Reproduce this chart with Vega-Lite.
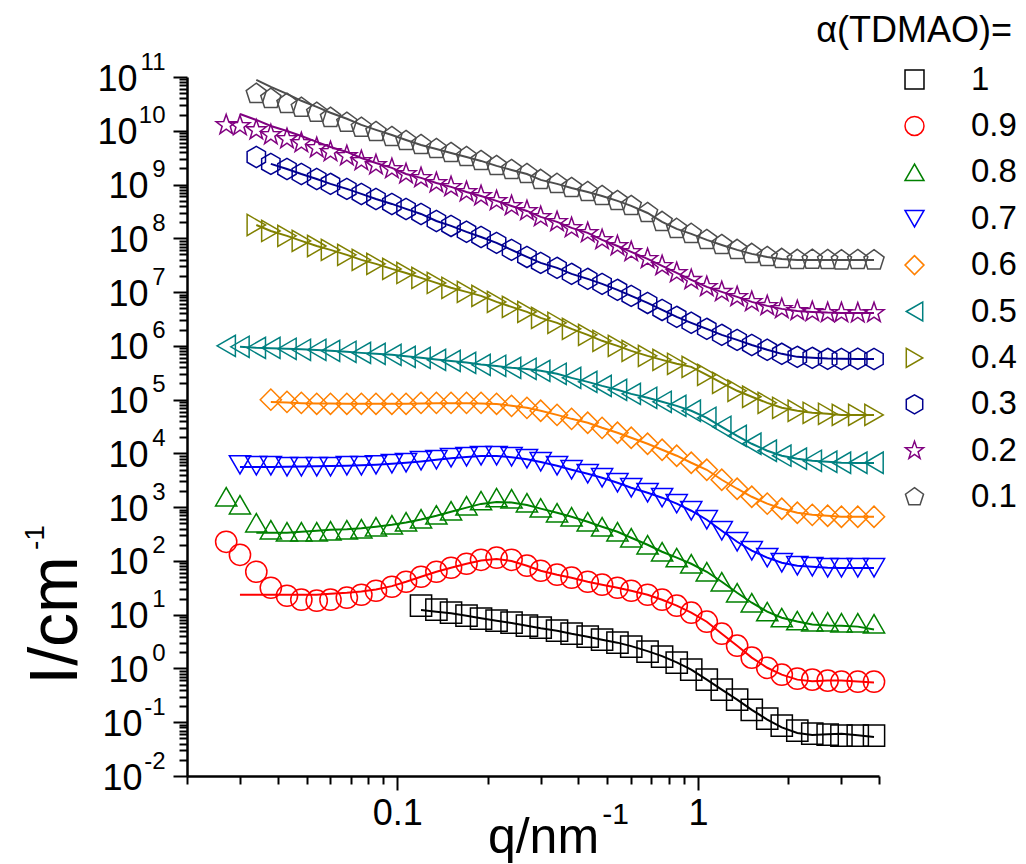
{
"$schema": "https://vega.github.io/schema/vega-lite/v6.json",
"width": 692, "height": 699,
"autosize": {"type": "none"},
"padding": {"left": 187, "top": 77, "right": 147, "bottom": 88},
"background": "white",
"config": {"view": {"stroke": null}, "font": "Liberation Sans"},
"title": {"text": "α(TDMAO)=", "anchor": "end", "frame": "group", "orient": "top", "fontSize": 36, "font": "Liberation Sans", "fontWeight": "normal", "color": "black", "dx": 133, "offset": 0},
"data": {"values": [
{"s":"0.1","q":0.034,"I":4.87e10,"f":8.86e10},{"s":"0.1","q":0.038,"I":3.93e10,"f":6.57e10},{"s":"0.1","q":0.043,"I":3.17e10,"f":4.87e10},{"s":"0.1","q":0.048,"I":2.68e10,"f":3.61e10},{"s":"0.1","q":0.054,"I":2.16e10,"f":2.79e10},{"s":"0.1","q":0.060,"I":1.74e10,"f":2.16e10},{"s":"0.1","q":0.068,"I":1.41e10,"f":1.67e10},{"s":"0.1","q":0.076,"I":1.14e10,"f":1.29e10},{"s":"0.1","q":0.085,"I":9.5e9,"f":1.04e10},{"s":"0.1","q":0.096,"I":7.66e9,"f":8.36e9},{"s":"0.1","q":0.107,"I":6.46e9,"f":6.74e9},{"s":"0.1","q":0.12,"I":5.44e9,"f":5.44e9},{"s":"0.1","q":0.135,"I":4.59e9,"f":4.59e9},{"s":"0.1","q":0.151,"I":3.87e9,"f":3.87e9},{"s":"0.1","q":0.17,"I":3.26e9,"f":3.26e9},{"s":"0.1","q":0.19,"I":2.75e9,"f":2.75e9},{"s":"0.1","q":0.214,"I":2.22e9,"f":2.22e9},{"s":"0.1","q":0.24,"I":1.87e9,"f":1.87e9},{"s":"0.1","q":0.27,"I":1.57e9,"f":1.57e9},{"s":"0.1","q":0.30,"I":1.22e9,"f":1.22e9},{"s":"0.1","q":0.34,"I":1.03e9,"f":1.03e9},{"s":"0.1","q":0.38,"I":8.65e8,"f":8.65e8},{"s":"0.1","q":0.43,"I":7.28e8,"f":7.28e8},{"s":"0.1","q":0.48,"I":6.13e8,"f":6.13e8},{"s":"0.1","q":0.54,"I":4.96e8,"f":4.96e8},{"s":"0.1","q":0.60,"I":4.0e8,"f":4.0e8},{"s":"0.1","q":0.68,"I":2.96e8,"f":2.96e8},{"s":"0.1","q":0.76,"I":2.02e8,"f":2.02e8},{"s":"0.1","q":0.85,"I":1.5e8,"f":1.5e8},{"s":"0.1","q":0.95,"I":1.21e8,"f":1.21e8},{"s":"0.1","q":1.07,"I":9.33e7,"f":9.33e7},{"s":"0.1","q":1.2,"I":7.53e7,"f":7.53e7},{"s":"0.1","q":1.35,"I":6.09e7,"f":6.09e7},{"s":"0.1","q":1.51,"I":5.13e7,"f":5.13e7},{"s":"0.1","q":1.7,"I":4.5e7,"f":4.5e7},{"s":"0.1","q":1.9,"I":4.14e7,"f":4.14e7},{"s":"0.1","q":2.14,"I":3.97e7,"f":3.97e7},{"s":"0.1","q":2.4,"I":4.0e7,"f":3.95e7},{"s":"0.1","q":2.7,"I":3.95e7,"f":3.93e7},{"s":"0.1","q":3.0,"I":3.9e7,"f":3.93e7},{"s":"0.1","q":3.4,"I":3.95e7,"f":3.93e7},{"s":"0.1","q":3.85,"I":3.9e7,"f":3.93e7},
{"s":"0.2","q":0.027,"I":1.28e10},{"s":"0.2","q":0.030,"I":1.23e10,"f":2.05e10},{"s":"0.2","q":0.034,"I":1.03e10,"f":1.59e10},{"s":"0.2","q":0.038,"I":8.36e9,"f":1.23e10},{"s":"0.2","q":0.043,"I":7.04e9,"f":9.9e9},{"s":"0.2","q":0.048,"I":5.94e9,"f":8.0e9},{"s":"0.2","q":0.054,"I":4.79e9,"f":6.2e9},{"s":"0.2","q":0.060,"I":4.04e9,"f":5.0e9},{"s":"0.2","q":0.068,"I":3.4e9,"f":4.04e9},{"s":"0.2","q":0.076,"I":2.75e9,"f":3.12e9},{"s":"0.2","q":0.085,"I":2.31e9,"f":2.52e9},{"s":"0.2","q":0.096,"I":1.95e9,"f":2.04e9},{"s":"0.2","q":0.107,"I":1.57e9,"f":1.57e9},{"s":"0.2","q":0.12,"I":1.33e9,"f":1.33e9},{"s":"0.2","q":0.135,"I":1.07e9,"f":1.07e9},{"s":"0.2","q":0.151,"I":9.05e8,"f":9.05e8},{"s":"0.2","q":0.17,"I":7.28e8,"f":7.28e8},{"s":"0.2","q":0.19,"I":6.13e8,"f":6.13e8},{"s":"0.2","q":0.214,"I":4.96e8,"f":4.96e8},{"s":"0.2","q":0.24,"I":4.0e8,"f":4.0e8},{"s":"0.2","q":0.27,"I":3.23e8,"f":3.23e8},{"s":"0.2","q":0.30,"I":2.5e8,"f":2.5e8},{"s":"0.2","q":0.34,"I":2.02e8,"f":2.02e8},{"s":"0.2","q":0.38,"I":1.56e8,"f":1.56e8},{"s":"0.2","q":0.43,"I":1.26e8,"f":1.26e8},{"s":"0.2","q":0.48,"I":9.33e7,"f":9.33e7},{"s":"0.2","q":0.54,"I":7.2e7,"f":7.2e7},{"s":"0.2","q":0.60,"I":5.58e7,"f":5.58e7},{"s":"0.2","q":0.68,"I":4.14e7,"f":4.14e7},{"s":"0.2","q":0.76,"I":3.07e7,"f":3.07e7},{"s":"0.2","q":0.85,"I":2.27e7,"f":2.27e7},{"s":"0.2","q":0.95,"I":1.69e7,"f":1.69e7},{"s":"0.2","q":1.07,"I":1.25e7,"f":1.25e7},{"s":"0.2","q":1.2,"I":1.01e7,"f":1.01e7},{"s":"0.2","q":1.35,"I":8.14e6,"f":8.14e6},{"s":"0.2","q":1.51,"I":6.57e6,"f":6.57e6},{"s":"0.2","q":1.7,"I":5.54e6,"f":5.54e6},{"s":"0.2","q":1.9,"I":4.87e6,"f":4.87e6},{"s":"0.2","q":2.14,"I":4.47e6,"f":4.47e6},{"s":"0.2","q":2.4,"I":4.28e6,"f":4.28e6},{"s":"0.2","q":2.7,"I":4.1e6,"f":4.15e6},{"s":"0.2","q":3.0,"I":4.1e6,"f":4.1e6},{"s":"0.2","q":3.4,"I":4.05e6,"f":4.08e6},{"s":"0.2","q":3.85,"I":4.1e6,"f":4.08e6},
{"s":"0.3","q":0.034,"I":3.26e9},{"s":"0.3","q":0.038,"I":2.42e9,"f":2.42e9},{"s":"0.3","q":0.043,"I":1.95e9,"f":1.95e9},{"s":"0.3","q":0.048,"I":1.57e9,"f":1.57e9},{"s":"0.3","q":0.054,"I":1.27e9,"f":1.27e9},{"s":"0.3","q":0.060,"I":1.03e9,"f":1.03e9},{"s":"0.3","q":0.068,"I":8.3e8,"f":8.3e8},{"s":"0.3","q":0.076,"I":6.69e8,"f":6.69e8},{"s":"0.3","q":0.085,"I":5.39e8,"f":5.39e8},{"s":"0.3","q":0.096,"I":4.36e8,"f":4.36e8},{"s":"0.3","q":0.107,"I":3.52e8,"f":3.52e8},{"s":"0.3","q":0.12,"I":2.84e8,"f":2.84e8},{"s":"0.3","q":0.135,"I":2.1e8,"f":2.1e8},{"s":"0.3","q":0.151,"I":1.7e8,"f":1.7e8},{"s":"0.3","q":0.17,"I":1.32e8,"f":1.32e8},{"s":"0.3","q":0.19,"I":1.06e8,"f":1.06e8},{"s":"0.3","q":0.214,"I":8.22e7,"f":8.22e7},{"s":"0.3","q":0.24,"I":6.09e7,"f":6.09e7},{"s":"0.3","q":0.27,"I":4.51e7,"f":4.51e7},{"s":"0.3","q":0.30,"I":3.49e7,"f":3.49e7},{"s":"0.3","q":0.34,"I":2.82e7,"f":2.82e7},{"s":"0.3","q":0.38,"I":2.18e7,"f":2.18e7},{"s":"0.3","q":0.43,"I":1.76e7,"f":1.76e7},{"s":"0.3","q":0.48,"I":1.42e7,"f":1.42e7},{"s":"0.3","q":0.54,"I":1.1e7,"f":1.1e7},{"s":"0.3","q":0.60,"I":8.49e6,"f":8.49e6},{"s":"0.3","q":0.68,"I":6.29e6,"f":6.29e6},{"s":"0.3","q":0.76,"I":4.66e6,"f":4.66e6},{"s":"0.3","q":0.85,"I":3.46e6,"f":3.46e6},{"s":"0.3","q":0.95,"I":2.68e6,"f":2.68e6},{"s":"0.3","q":1.07,"I":2.07e6,"f":2.07e6},{"s":"0.3","q":1.2,"I":1.6e6,"f":1.6e6},{"s":"0.3","q":1.35,"I":1.29e6,"f":1.29e6},{"s":"0.3","q":1.51,"I":1.04e6,"f":1.04e6},{"s":"0.3","q":1.7,"I":8.44e5,"f":8.44e5},{"s":"0.3","q":1.9,"I":7.1e5,"f":7.1e5},{"s":"0.3","q":2.14,"I":6.24e5,"f":6.24e5},{"s":"0.3","q":2.4,"I":5.98e5,"f":5.98e5},{"s":"0.3","q":2.7,"I":5.73e5,"f":5.8e5},{"s":"0.3","q":3.0,"I":5.7e5,"f":5.75e5},{"s":"0.3","q":3.4,"I":5.75e5,"f":5.72e5},{"s":"0.3","q":3.85,"I":5.7e5,"f":5.72e5},
{"s":"0.4","q":0.034,"I":1.77e8,"f":1.77e8},{"s":"0.4","q":0.038,"I":1.37e8,"f":1.37e8},{"s":"0.4","q":0.043,"I":1.11e8,"f":1.11e8},{"s":"0.4","q":0.048,"I":8.95e7,"f":8.95e7},{"s":"0.4","q":0.054,"I":7.2e7,"f":7.2e7},{"s":"0.4","q":0.060,"I":6.09e7,"f":6.09e7},{"s":"0.4","q":0.068,"I":4.92e7,"f":4.92e7},{"s":"0.4","q":0.076,"I":3.97e7,"f":3.97e7},{"s":"0.4","q":0.085,"I":3.35e7,"f":3.35e7},{"s":"0.4","q":0.096,"I":2.7e7,"f":2.7e7},{"s":"0.4","q":0.107,"I":2.27e7,"f":2.27e7},{"s":"0.4","q":0.12,"I":1.84e7,"f":1.84e7},{"s":"0.4","q":0.135,"I":1.48e7,"f":1.48e7},{"s":"0.4","q":0.151,"I":1.2e7,"f":1.2e7},{"s":"0.4","q":0.17,"I":1.01e7,"f":1.01e7},{"s":"0.4","q":0.19,"I":8.49e6,"f":8.49e6},{"s":"0.4","q":0.214,"I":6.57e6,"f":6.57e6},{"s":"0.4","q":0.24,"I":5.3e6,"f":5.3e6},{"s":"0.4","q":0.27,"I":4.28e6,"f":4.28e6},{"s":"0.4","q":0.30,"I":3.31e6,"f":3.31e6},{"s":"0.4","q":0.34,"I":2.68e6,"f":2.68e6},{"s":"0.4","q":0.38,"I":2.07e6,"f":2.07e6},{"s":"0.4","q":0.43,"I":1.6e6,"f":1.6e6},{"s":"0.4","q":0.48,"I":1.24e6,"f":1.24e6},{"s":"0.4","q":0.54,"I":1.0e6,"f":1.0e6},{"s":"0.4","q":0.60,"I":8.07e5,"f":8.07e5},{"s":"0.4","q":0.68,"I":6.51e5,"f":6.51e5},{"s":"0.4","q":0.76,"I":5.49e5,"f":5.49e5},{"s":"0.4","q":0.85,"I":4.63e5,"f":4.63e5},{"s":"0.4","q":0.95,"I":4.07e5,"f":4.07e5},{"s":"0.4","q":1.07,"I":2.89e5,"f":2.89e5},{"s":"0.4","q":1.2,"I":2.05e5,"f":2.05e5},{"s":"0.4","q":1.35,"I":1.46e5,"f":1.46e5},{"s":"0.4","q":1.51,"I":1.13e5,"f":1.13e5},{"s":"0.4","q":1.7,"I":8.71e4,"f":8.71e4},{"s":"0.4","q":1.9,"I":7.04e4,"f":7.04e4},{"s":"0.4","q":2.14,"I":6.2e4,"f":6.2e4},{"s":"0.4","q":2.4,"I":5.68e4,"f":5.68e4},{"s":"0.4","q":2.7,"I":5.44e4,"f":5.44e4},{"s":"0.4","q":3.0,"I":5.2e4,"f":5.2e4},{"s":"0.4","q":3.4,"I":5.2e4,"f":5.2e4},{"s":"0.4","q":3.85,"I":5.2e4,"f":5.2e4},
{"s":"0.5","q":0.027,"I":1.0e6},{"s":"0.5","q":0.030,"I":9.6e5,"f":9.6e5},{"s":"0.5","q":0.034,"I":9.17e5,"f":9.17e5},{"s":"0.5","q":0.038,"I":9.17e5,"f":9.0e5},{"s":"0.5","q":0.043,"I":8.8e5,"f":8.8e5},{"s":"0.5","q":0.048,"I":8.44e5,"f":8.6e5},{"s":"0.5","q":0.054,"I":8.44e5,"f":8.4e5},{"s":"0.5","q":0.060,"I":8.07e5,"f":8.1e5},{"s":"0.5","q":0.068,"I":7.74e5,"f":7.74e5},{"s":"0.5","q":0.076,"I":7.4e5,"f":7.4e5},{"s":"0.5","q":0.085,"I":7.1e5,"f":7.1e5},{"s":"0.5","q":0.096,"I":6.8e5,"f":6.8e5},{"s":"0.5","q":0.107,"I":6.24e5,"f":6.4e5},{"s":"0.5","q":0.12,"I":5.98e5,"f":6.0e5},{"s":"0.5","q":0.135,"I":5.49e5,"f":5.6e5},{"s":"0.5","q":0.151,"I":5.25e5,"f":5.25e5},{"s":"0.5","q":0.17,"I":4.83e5,"f":4.9e5},{"s":"0.5","q":0.19,"I":4.43e5,"f":4.5e5},{"s":"0.5","q":0.214,"I":4.25e5,"f":4.2e5},{"s":"0.5","q":0.24,"I":3.9e5,"f":3.9e5},{"s":"0.5","q":0.27,"I":3.74e5,"f":3.7e5},{"s":"0.5","q":0.30,"I":3.43e5,"f":3.43e5},{"s":"0.5","q":0.34,"I":3.02e5,"f":3.02e5},{"s":"0.5","q":0.38,"I":2.54e5,"f":2.54e5},{"s":"0.5","q":0.43,"I":2.14e5,"f":2.14e5},{"s":"0.5","q":0.48,"I":1.8e5,"f":1.8e5},{"s":"0.5","q":0.54,"I":1.52e5,"f":1.52e5},{"s":"0.5","q":0.60,"I":1.28e5,"f":1.28e5},{"s":"0.5","q":0.68,"I":1.08e5,"f":1.08e5},{"s":"0.5","q":0.76,"I":9.1e4,"f":9.1e4},{"s":"0.5","q":0.85,"I":7.66e4,"f":7.66e4},{"s":"0.5","q":0.95,"I":6.2e4,"f":6.2e4},{"s":"0.5","q":1.07,"I":4.59e4,"f":4.59e4},{"s":"0.5","q":1.2,"I":3.12e4,"f":3.12e4},{"s":"0.5","q":1.35,"I":2.12e4,"f":2.12e4},{"s":"0.5","q":1.51,"I":1.51e4,"f":1.51e4},{"s":"0.5","q":1.7,"I":1.12e4,"f":1.12e4},{"s":"0.5","q":1.9,"I":9.05e3,"f":9.05e3},{"s":"0.5","q":2.14,"I":7.95e3,"f":7.95e3},{"s":"0.5","q":2.4,"I":7.28e3,"f":7.28e3},{"s":"0.5","q":2.7,"I":6.98e3,"f":6.98e3},{"s":"0.5","q":3.0,"I":6.69e3,"f":6.69e3},{"s":"0.5","q":3.4,"I":6.69e3,"f":6.6e3},{"s":"0.5","q":3.85,"I":6.69e3,"f":6.6e3},
{"s":"0.6","q":0.038,"I":9.97e4,"f":9.0e4},{"s":"0.6","q":0.043,"I":9.1e4,"f":8.8e4},{"s":"0.6","q":0.048,"I":8.71e4,"f":8.6e4},{"s":"0.6","q":0.054,"I":8.36e4,"f":8.5e4},{"s":"0.6","q":0.060,"I":8.36e4,"f":8.45e4},{"s":"0.6","q":0.068,"I":8.36e4,"f":8.4e4},{"s":"0.6","q":0.076,"I":8.36e4,"f":8.4e4},{"s":"0.6","q":0.085,"I":8.36e4,"f":8.4e4},{"s":"0.6","q":0.096,"I":8.36e4,"f":8.4e4},{"s":"0.6","q":0.107,"I":8.36e4,"f":8.4e4},{"s":"0.6","q":0.12,"I":8.71e4,"f":8.5e4},{"s":"0.6","q":0.135,"I":8.71e4,"f":8.6e4},{"s":"0.6","q":0.151,"I":8.71e4,"f":8.6e4},{"s":"0.6","q":0.17,"I":8.71e4,"f":8.6e4},{"s":"0.6","q":0.19,"I":8.71e4,"f":8.5e4},{"s":"0.6","q":0.214,"I":8.36e4,"f":8.3e4},{"s":"0.6","q":0.24,"I":7.66e4,"f":7.7e4},{"s":"0.6","q":0.27,"I":7.04e4,"f":7.04e4},{"s":"0.6","q":0.30,"I":6.2e4,"f":6.2e4},{"s":"0.6","q":0.34,"I":5.2e4,"f":5.2e4},{"s":"0.6","q":0.38,"I":4.39e4,"f":4.39e4},{"s":"0.6","q":0.43,"I":3.71e4,"f":3.71e4},{"s":"0.6","q":0.48,"I":2.99e4,"f":2.99e4},{"s":"0.6","q":0.54,"I":2.42e4,"f":2.42e4},{"s":"0.6","q":0.60,"I":1.95e4,"f":1.95e4},{"s":"0.6","q":0.68,"I":1.51e4,"f":1.51e4},{"s":"0.6","q":0.76,"I":1.17e4,"f":1.17e4},{"s":"0.6","q":0.85,"I":9.05e3,"f":9.05e3},{"s":"0.6","q":0.95,"I":6.69e3,"f":6.69e3},{"s":"0.6","q":1.07,"I":4.96e3,"f":4.96e3},{"s":"0.6","q":1.2,"I":3.23e3,"f":3.23e3},{"s":"0.6","q":1.35,"I":2.2e3,"f":2.2e3},{"s":"0.6","q":1.51,"I":1.56e3,"f":1.56e3},{"s":"0.6","q":1.7,"I":1.16e3,"f":1.16e3},{"s":"0.6","q":1.9,"I":9.33e2,"f":9.33e2},{"s":"0.6","q":2.14,"I":7.87e2,"f":7.87e2},{"s":"0.6","q":2.4,"I":7.2e2,"f":7.2e2},{"s":"0.6","q":2.7,"I":6.92e2,"f":6.92e2},{"s":"0.6","q":3.0,"I":6.63e2,"f":6.63e2},{"s":"0.6","q":3.4,"I":6.63e2,"f":6.6e2},{"s":"0.6","q":3.85,"I":6.63e2,"f":6.6e2},
{"s":"0.7","q":0.030,"I":6.13e3,"f":5.6e3},{"s":"0.7","q":0.034,"I":5.88e3,"f":5.6e3},{"s":"0.7","q":0.038,"I":5.88e3,"f":5.6e3},{"s":"0.7","q":0.043,"I":5.63e3,"f":5.65e3},{"s":"0.7","q":0.048,"I":5.63e3,"f":5.7e3},{"s":"0.7","q":0.054,"I":5.63e3,"f":5.75e3},{"s":"0.7","q":0.060,"I":5.63e3,"f":5.8e3},{"s":"0.7","q":0.068,"I":5.88e3,"f":5.9e3},{"s":"0.7","q":0.076,"I":5.88e3,"f":6.0e3},{"s":"0.7","q":0.085,"I":6.13e3,"f":6.15e3},{"s":"0.7","q":0.096,"I":6.4e3,"f":6.4e3},{"s":"0.7","q":0.107,"I":6.69e3,"f":6.69e3},{"s":"0.7","q":0.12,"I":7.28e3,"f":7.1e3},{"s":"0.7","q":0.135,"I":7.6e3,"f":7.6e3},{"s":"0.7","q":0.151,"I":8.3e3,"f":8.1e3},{"s":"0.7","q":0.17,"I":8.65e3,"f":8.6e3},{"s":"0.7","q":0.19,"I":9.05e3,"f":8.9e3},{"s":"0.7","q":0.214,"I":9.05e3,"f":8.9e3},{"s":"0.7","q":0.24,"I":8.65e3,"f":8.5e3},{"s":"0.7","q":0.27,"I":7.95e3,"f":7.8e3},{"s":"0.7","q":0.30,"I":6.98e3,"f":6.9e3},{"s":"0.7","q":0.34,"I":5.88e3,"f":5.88e3},{"s":"0.7","q":0.38,"I":4.96e3,"f":4.96e3},{"s":"0.7","q":0.43,"I":4.17e3,"f":4.17e3},{"s":"0.7","q":0.48,"I":3.52e3,"f":3.52e3},{"s":"0.7","q":0.54,"I":2.84e3,"f":2.84e3},{"s":"0.7","q":0.60,"I":2.29e3,"f":2.29e3},{"s":"0.7","q":0.68,"I":1.85e3,"f":1.85e3},{"s":"0.7","q":0.76,"I":1.5e3,"f":1.5e3},{"s":"0.7","q":0.85,"I":1.16e3,"f":1.16e3},{"s":"0.7","q":0.95,"I":8.57e2,"f":8.57e2},{"s":"0.7","q":1.07,"I":5.83e2,"f":5.83e2},{"s":"0.7","q":1.2,"I":3.64e2,"f":3.64e2},{"s":"0.7","q":1.35,"I":2.27e2,"f":2.27e2},{"s":"0.7","q":1.51,"I":1.55e2,"f":1.55e2},{"s":"0.7","q":1.7,"I":1.15e2,"f":1.15e2},{"s":"0.7","q":1.9,"I":9.25e1,"f":9.25e1},{"s":"0.7","q":2.14,"I":8.14e1,"f":8.14e1},{"s":"0.7","q":2.4,"I":7.8e1,"f":7.8e1},{"s":"0.7","q":2.7,"I":7.47e1,"f":7.5e1},{"s":"0.7","q":3.0,"I":7.47e1,"f":7.4e1},{"s":"0.7","q":3.4,"I":7.47e1,"f":7.4e1},{"s":"0.7","q":3.85,"I":7.47e1,"f":7.4e1},
{"s":"0.8","q":0.027,"I":1.56e3},{"s":"0.8","q":0.030,"I":1.11e3},{"s":"0.8","q":0.034,"I":5.13e2,"f":3.35e2},{"s":"0.8","q":0.038,"I":3.8e2,"f":3.35e2},{"s":"0.8","q":0.043,"I":3.49e2,"f":3.35e2},{"s":"0.8","q":0.048,"I":3.49e2,"f":3.49e2},{"s":"0.8","q":0.054,"I":3.49e2,"f":3.64e2},{"s":"0.8","q":0.060,"I":3.64e2,"f":3.8e2},{"s":"0.8","q":0.068,"I":3.8e2,"f":3.9e2},{"s":"0.8","q":0.076,"I":3.97e2,"f":4.05e2},{"s":"0.8","q":0.085,"I":4.32e2,"f":4.32e2},{"s":"0.8","q":0.096,"I":4.7e2,"f":4.7e2},{"s":"0.8","q":0.107,"I":5.35e2,"f":5.2e2},{"s":"0.8","q":0.12,"I":6.09e2,"f":5.9e2},{"s":"0.8","q":0.135,"I":7.2e2,"f":6.9e2},{"s":"0.8","q":0.151,"I":8.57e2,"f":8.2e2},{"s":"0.8","q":0.17,"I":1.06e3,"f":9.8e2},{"s":"0.8","q":0.19,"I":1.32e3,"f":1.15e3},{"s":"0.8","q":0.214,"I":1.5e3,"f":1.25e3},{"s":"0.8","q":0.24,"I":1.43e3,"f":1.22e3},{"s":"0.8","q":0.27,"I":1.21e3,"f":1.1e3},{"s":"0.8","q":0.30,"I":9.7e2,"f":9.4e2},{"s":"0.8","q":0.34,"I":7.87e2,"f":7.87e2},{"s":"0.8","q":0.38,"I":6.63e2,"f":6.63e2},{"s":"0.8","q":0.43,"I":5.35e2,"f":5.35e2},{"s":"0.8","q":0.48,"I":4.32e2,"f":4.32e2},{"s":"0.8","q":0.54,"I":3.49e2,"f":3.49e2},{"s":"0.8","q":0.60,"I":2.7e2,"f":2.7e2},{"s":"0.8","q":0.68,"I":2.0e2,"f":2.0e2},{"s":"0.8","q":0.76,"I":1.48e2,"f":1.48e2},{"s":"0.8","q":0.85,"I":1.15e2,"f":1.15e2},{"s":"0.8","q":0.95,"I":8.86e1,"f":8.86e1},{"s":"0.8","q":1.07,"I":6.29e1,"f":6.29e1},{"s":"0.8","q":1.2,"I":4.1e1,"f":4.1e1},{"s":"0.8","q":1.35,"I":2.56e1,"f":2.56e1},{"s":"0.8","q":1.51,"I":1.67e1,"f":1.67e1},{"s":"0.8","q":1.7,"I":1.14e1,"f":1.14e1},{"s":"0.8","q":1.9,"I":8.8,"f":8.8},{"s":"0.8","q":2.14,"I":7.74,"f":7.5},{"s":"0.8","q":2.4,"I":7.4,"f":6.6},{"s":"0.8","q":2.7,"I":7.4,"f":6.3},{"s":"0.8","q":3.0,"I":7.1,"f":6.2},{"s":"0.8","q":3.4,"I":7.1,"f":6.0},{"s":"0.8","q":3.85,"I":6.8,"f":5.3},
{"s":"0.9","q":0.027,"I":2.27e2},{"s":"0.9","q":0.030,"I":1.3e2,"f":2.35e1},{"s":"0.9","q":0.034,"I":6.29e1,"f":2.35e1},{"s":"0.9","q":0.038,"I":3.17e1,"f":2.35e1},{"s":"0.9","q":0.043,"I":2.25e1,"f":2.35e1},{"s":"0.9","q":0.048,"I":1.9e1,"f":2.35e1},{"s":"0.9","q":0.054,"I":1.82e1,"f":2.35e1},{"s":"0.9","q":0.060,"I":1.9e1,"f":2.46e1},{"s":"0.9","q":0.068,"I":2.07e1,"f":2.56e1},{"s":"0.9","q":0.076,"I":2.35e1,"f":2.7e1},{"s":"0.9","q":0.085,"I":2.79e1,"f":2.95e1},{"s":"0.9","q":0.096,"I":3.31e1,"f":3.4e1},{"s":"0.9","q":0.107,"I":4.1e1,"f":4.1e1},{"s":"0.9","q":0.12,"I":5.08e1,"f":5.08e1},{"s":"0.9","q":0.135,"I":6.29e1,"f":6.29e1},{"s":"0.9","q":0.151,"I":7.47e1,"f":7.47e1},{"s":"0.9","q":0.17,"I":8.86e1,"f":8.86e1},{"s":"0.9","q":0.19,"I":1.05e2,"f":1.02e2},{"s":"0.9","q":0.214,"I":1.15e2,"f":1.08e2},{"s":"0.9","q":0.24,"I":1.05e2,"f":1.0e2},{"s":"0.9","q":0.27,"I":8.14e1,"f":8.14e1},{"s":"0.9","q":0.30,"I":6.57e1,"f":6.57e1},{"s":"0.9","q":0.34,"I":5.54e1,"f":5.54e1},{"s":"0.9","q":0.38,"I":4.87e1,"f":4.87e1},{"s":"0.9","q":0.43,"I":4.1e1,"f":4.1e1},{"s":"0.9","q":0.48,"I":3.61e1,"f":3.61e1},{"s":"0.9","q":0.54,"I":3.17e1,"f":3.17e1},{"s":"0.9","q":0.60,"I":2.79e1,"f":2.79e1},{"s":"0.9","q":0.68,"I":2.35e1,"f":2.35e1},{"s":"0.9","q":0.76,"I":1.9e1,"f":1.9e1},{"s":"0.9","q":0.85,"I":1.47e1,"f":1.47e1},{"s":"0.9","q":0.95,"I":1.09e1,"f":1.09e1},{"s":"0.9","q":1.07,"I":7.4,"f":7.4},{"s":"0.9","q":1.2,"I":4.43,"f":4.43},{"s":"0.9","q":1.35,"I":2.65,"f":2.65},{"s":"0.9","q":1.51,"I":1.59,"f":1.59},{"s":"0.9","q":1.7,"I":1.03,"f":1.03},{"s":"0.9","q":1.9,"I":0.766,"f":0.766},{"s":"0.9","q":2.14,"I":0.646,"f":0.62},{"s":"0.9","q":2.4,"I":0.62,"f":0.58},{"s":"0.9","q":2.7,"I":0.594,"f":0.6},{"s":"0.9","q":3.0,"I":0.568,"f":0.6},{"s":"0.9","q":3.4,"I":0.568,"f":0.57},{"s":"0.9","q":3.85,"I":0.568,"f":0.55},
{"s":"1","q":0.12,"I":1.47e1,"f":1.22e1},{"s":"1","q":0.135,"I":1.24e1,"f":1.14e1},{"s":"1","q":0.151,"I":1.09e1,"f":1.06e1},{"s":"1","q":0.17,"I":9.6,"f":9.6},{"s":"1","q":0.19,"I":8.44,"f":8.6},{"s":"1","q":0.214,"I":7.74,"f":7.74},{"s":"1","q":0.24,"I":7.1,"f":7.0},{"s":"1","q":0.27,"I":6.24,"f":6.24},{"s":"1","q":0.30,"I":5.73,"f":5.6},{"s":"1","q":0.34,"I":5.04,"f":5.04},{"s":"1","q":0.38,"I":4.43,"f":4.43},{"s":"1","q":0.43,"I":3.9,"f":3.9},{"s":"1","q":0.48,"I":3.43,"f":3.43},{"s":"1","q":0.54,"I":3.02,"f":3.02},{"s":"1","q":0.60,"I":2.54,"f":2.6},{"s":"1","q":0.68,"I":2.05,"f":2.1},{"s":"1","q":0.76,"I":1.66,"f":1.7},{"s":"1","q":0.85,"I":1.28,"f":1.3},{"s":"1","q":0.95,"I":0.95,"f":0.95},{"s":"1","q":1.07,"I":0.62,"f":0.62},{"s":"1","q":1.2,"I":0.404,"f":0.404},{"s":"1","q":1.35,"I":0.263,"f":0.263},{"s":"1","q":1.51,"I":0.17,"f":0.17},{"s":"1","q":1.7,"I":0.117,"f":0.112},{"s":"1","q":1.9,"I":0.0865,"f":0.08},{"s":"1","q":2.14,"I":0.0698,"f":0.063},{"s":"1","q":2.4,"I":0.0613,"f":0.058},{"s":"1","q":2.7,"I":0.0588,"f":0.06},{"s":"1","q":3.0,"I":0.0563,"f":0.061},{"s":"1","q":3.4,"I":0.0563,"f":0.057},{"s":"1","q":3.85,"I":0.0563,"f":0.053}
]},
"layer": [
{
"mark": {"type": "point", "filled": false, "strokeWidth": 1.5, "size": 450, "opacity": 1},
"encoding": {
"x": {"field": "q", "type": "quantitative",
 "scale": {"type": "log", "domain": [0.02, 4], "nice": false},
 "axis": {"orient": "bottom", "values": [0.02,0.03,0.04,0.05,0.06,0.07,0.08,0.09,0.1,0.2,0.3,0.4,0.5,0.6,0.7,0.8,0.9,1,2,3,4],
  "labelExpr": "datum.value == 0.1 ? '0.1' : (datum.value == 1 ? '1' : '')",
  "tickSize": {"condition": {"test": "datum.value == 0.1 || datum.value == 1", "value": 14}, "value": 8},
  "tickWidth": 2, "tickColor": "black", "domainColor": "black", "domainWidth": 2.5, "grid": false,
  "labelFontSize": 36, "labelColor": "black", "labelFont": "Liberation Sans", "labelPadding": 6, "labelOverlap": false, "labelFlush": false,
  "title": "q/nm", "titleFontSize": 50, "titleFont": "Liberation Sans", "titleFontWeight": "normal", "titleColor": "black",
  "titleX": 356, "titleY": 76, "titleAlign": "center", "titleBaseline": "alphabetic"}},
"y": {"field": "I", "type": "quantitative",
 "scale": {"type": "log", "domain": [0.01, 1e11], "nice": false},
 "axis": {"orient": "left",
  "values": [1e-2,2e-2,3e-2,4e-2,5e-2,6e-2,7e-2,8e-2,9e-2,1e-1,2e-1,3e-1,4e-1,5e-1,6e-1,7e-1,8e-1,9e-1,1,2,3,4,5,6,7,8,9,1e1,2e1,3e1,4e1,5e1,6e1,7e1,8e1,9e1,1e2,2e2,3e2,4e2,5e2,6e2,7e2,8e2,9e2,1e3,2e3,3e3,4e3,5e3,6e3,7e3,8e3,9e3,1e4,2e4,3e4,4e4,5e4,6e4,7e4,8e4,9e4,1e5,2e5,3e5,4e5,5e5,6e5,7e5,8e5,9e5,1e6,2e6,3e6,4e6,5e6,6e6,7e6,8e6,9e6,1e7,2e7,3e7,4e7,5e7,6e7,7e7,8e7,9e7,1e8,2e8,3e8,4e8,5e8,6e8,7e8,8e8,9e8,1e9,2e9,3e9,4e9,5e9,6e9,7e9,8e9,9e9,1e10,2e10,3e10,4e10,5e10,6e10,7e10,8e10,9e10,1e11],
  "labelExpr": "abs(log(datum.value)/LN10 - round(log(datum.value)/LN10)) < 1e-6 ? '10' : ''",
  "tickSize": {"condition": {"test": "abs(log(datum.value)/LN10 - round(log(datum.value)/LN10)) < 1e-6", "value": 14}, "value": 8},
  "tickWidth": 2, "tickColor": "black", "domainColor": "black", "domainWidth": 2.5, "grid": false,
  "labelFontSize": 36, "labelColor": "black", "labelFont": "Liberation Sans", "labelOverlap": false, "labelFlush": false,
  "labelAlign": "right", "labelBaseline": "middle", "labelOffset": 2,
  "labelPadding": {"condition": [{"test": "datum.value > 5e9", "value": 36}, {"test": "datum.value < 0.5", "value": 31}], "value": 25},
  "title": "I/cm", "titleFontSize": 68, "titleFont": "Liberation Sans", "titleFontWeight": "normal", "titleColor": "black",
  "titleAngle": 270, "titleX": -131, "titleY": 543, "titleAlign": "center", "titleBaseline": "middle"}},
"color": {"field": "s", "type": "nominal",
 "scale": {"domain": ["1","0.9","0.8","0.7","0.6","0.5","0.4","0.3","0.2","0.1"], "range": ["#000000","#FF0000","#008000","#0000FF","#FF8000","#008080","#808000","#000090","#800080","#4D4D4D"]},
 "legend": {"orient": "none", "legendX": 711, "legendY": -14, "title": null, "symbolSize": 360, "symbolStrokeWidth": 1.5, "labelFontSize": 33, "labelFont": "Liberation Sans", "labelColor": "black", "labelOffset": 40, "rowPadding": 12.4}},
"shape": {"field": "s", "type": "nominal",
 "scale": {"domain": ["1","0.9","0.8","0.7","0.6","0.5","0.4","0.3","0.2","0.1"], "range": ["square","circle","triangle-up","triangle-down","diamond","triangle-left","triangle-right","M0,-1L0.866,-0.5L0.866,0.5L0,1L-0.866,0.5L-0.866,-0.5Z","M0,-1L0.235,-0.324L0.951,-0.309L0.38,0.124L0.588,0.809L0,0.4L-0.588,0.809L-0.38,0.124L-0.951,-0.309L-0.235,-0.324Z","M0,-1L0.951,-0.309L0.588,0.809L-0.588,0.809L-0.951,-0.309Z"]},
 "legend": {"orient": "none", "legendX": 711, "legendY": -14, "title": null, "symbolSize": 360, "symbolStrokeWidth": 1.5, "labelFontSize": 33, "labelFont": "Liberation Sans", "labelColor": "black", "labelOffset": 40, "rowPadding": 12.4}}
}
},
{
"mark": {"type": "line", "strokeWidth": 2},
"encoding": {
"x": {"field": "q", "type": "quantitative",
 "scale": {"type": "log", "domain": [0.02, 4], "nice": false},
 "axis": {"orient": "bottom", "labels": false, "ticks": false, "domain": false, "grid": false,
  "title": "-1", "titleFontSize": 30, "titleFont": "Liberation Sans", "titleFontWeight": "normal", "titleColor": "black",
  "titleX": 428, "titleY": 47, "titleAlign": "center", "titleBaseline": "alphabetic"}},
"y": {"field": "f", "type": "quantitative",
 "scale": {"type": "log", "domain": [0.01, 1e11], "nice": false},
 "axis": {"orient": "left", "values": [1e-2,1e-1,1,1e1,1e2,1e3,1e4,1e5,1e6,1e7,1e8,1e9,1e10,1e11],
  "labelExpr": "'' + round(log(datum.value)/LN10)",
  "domain": false, "ticks": false, "grid": false,
  "labelFontSize": 24, "labelColor": "black", "labelFont": "Liberation Sans", "labelOverlap": false, "labelFlush": false,
  "labelAlign": "right", "labelBaseline": "middle", "labelPadding": 22, "labelOffset": -15,
  "title": "-1", "titleFontSize": 28, "titleFont": "Liberation Sans", "titleFontWeight": "normal", "titleColor": "black",
  "titleAngle": 270, "titleX": -152, "titleY": 460, "titleAlign": "center", "titleBaseline": "middle"}},
"color": {"field": "s", "type": "nominal", "legend": null}
}
}
],
"resolve": {"axis": {"x": "independent", "y": "independent"}}
}
